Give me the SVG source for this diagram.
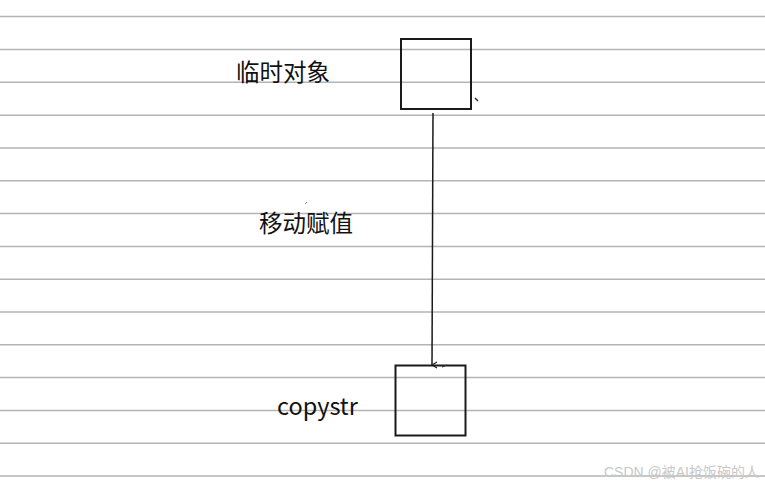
<svg xmlns="http://www.w3.org/2000/svg" width="765" height="486" viewBox="0 0 765 486">
<style>
.rule{stroke:#b4b4b4;stroke-width:1.5}
.box{fill:none;stroke:#1a1a1a;stroke-width:2}
.lbl{font-family:"Noto Sans CJK SC","Liberation Sans",sans-serif;font-size:23.5px;fill:#111}
.wm{font-family:"Liberation Sans","Noto Sans CJK SC",sans-serif;font-size:14px;fill:#c8c8c8}
</style>
<defs>
<marker id="ah" markerWidth="8" markerHeight="8" refX="4" refY="7" orient="auto" markerUnits="userSpaceOnUse">
<path d="M1,2 L4,7 L7,2" fill="none" stroke="#1a1a1a" stroke-width="1.2"/>
</marker>
</defs>
<rect width="765" height="486" fill="#fff"/>
<g id="rules">
<line class="rule" x1="0" y1="16.5" x2="765" y2="16.5"/>
<line class="rule" x1="0" y1="49.5" x2="765" y2="49.5"/>
<line class="rule" x1="0" y1="82.3" x2="765" y2="82.3"/>
<line class="rule" x1="0" y1="115.2" x2="765" y2="115.2"/>
<line class="rule" x1="0" y1="148" x2="765" y2="148"/>
<line class="rule" x1="0" y1="180.8" x2="765" y2="180.8"/>
<line class="rule" x1="0" y1="213.6" x2="765" y2="213.6"/>
<line class="rule" x1="0" y1="246.4" x2="765" y2="246.4"/>
<line class="rule" x1="0" y1="279.2" x2="765" y2="279.2"/>
<line class="rule" x1="0" y1="312" x2="765" y2="312"/>
<line class="rule" x1="0" y1="344.8" x2="765" y2="344.8"/>
<line class="rule" x1="0" y1="377.6" x2="765" y2="377.6"/>
<line class="rule" x1="0" y1="410.4" x2="765" y2="410.4"/>
<line class="rule" x1="0" y1="443.2" x2="765" y2="443.2"/>
<line class="rule" x1="0" y1="476" x2="765" y2="476"/>
</g>
<g id="temp">
<rect class="box" x="401" y="39" width="70" height="70"/>
<text class="lbl" x="236" y="81">临时对象</text>
<path d="M475,98 l3,3" stroke="#333" stroke-width="1.5"/>
</g>
<g id="copystr">
<rect class="box" x="395.5" y="365.5" width="70" height="70"/>
<text class="lbl" x="277" y="415" font-family="Liberation Sans,sans-serif" font-size="23px">copystr</text>
</g>
<g id="connectors">
<line x1="433" y1="113" x2="432" y2="365" stroke="#1a1a1a" stroke-width="1.5" marker-end="url(#ah)"/>
<path d="M442,367 l5,-2" stroke="#333" stroke-width="1.2"/>
<text class="lbl" x="259" y="232">移动赋值</text>
<path d="M305,204 l2,-2" stroke="#888" stroke-width="1"/>
</g>
<text class="wm" x="604" y="477">CSDN @被AI抢饭碗的人</text>
</svg>
